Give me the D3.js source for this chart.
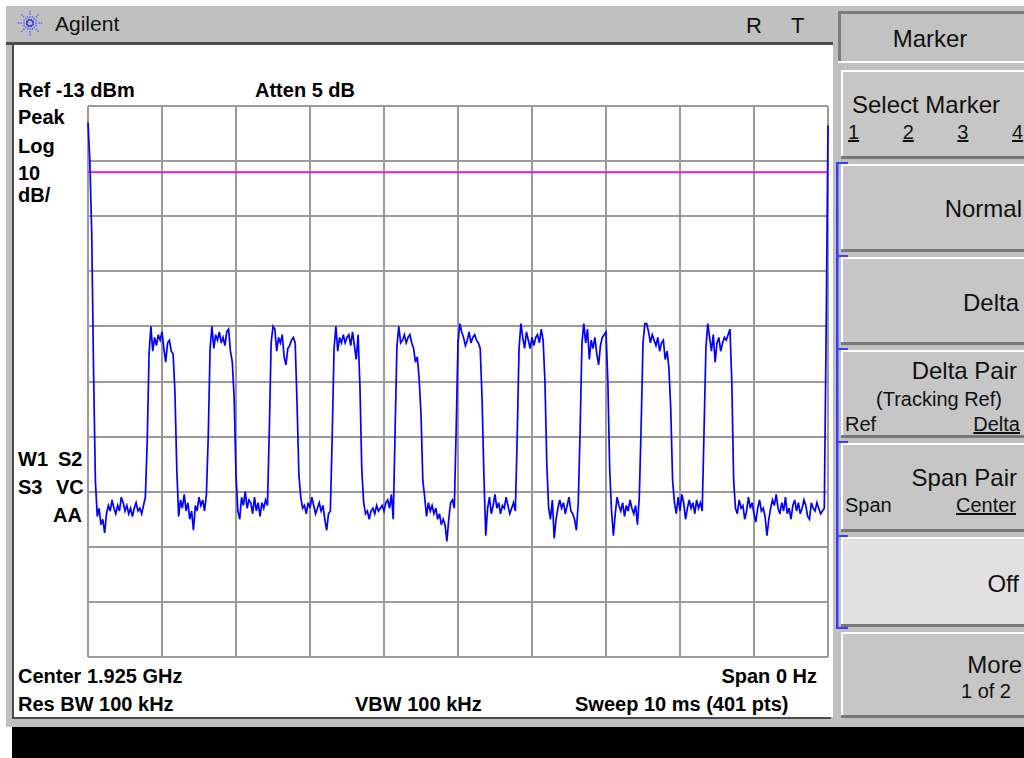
<!DOCTYPE html>
<html>
<head>
<meta charset="utf-8">
<title>Agilent ESA – Zero span burst trace</title>
<script src="https://cdn.jsdelivr.net/npm/d3@7"></script>
<style>
  html, body { margin: 0; padding: 0; background: #ffffff; }
  svg { display: block; }
  text { font-family: "Liberation Sans", Arial, sans-serif; }
  .ann { font-weight: bold; font-size: 20px; fill: #000; }
  .key { font-size: 24px; fill: #111; }
  .keysm { font-size: 20px; fill: #111; }
</style>
</head>
<body>
<svg id="scr" width="1024" height="758"></svg>
<script>
// ---- instrument settings ----
const refLevelDbm = -13;
const dbPerDiv = 10;
const gridDivs = 10;
const attenDb = 5;
const centerGHz = 1.925;
const spanHz = 0;
const resBwKHz = 100;
const vbwKHz = 100;
const sweepMs = 10;
const displayLineDbm = -25;

// ---- swept trace, 401 points (dBm) ----
const traceDbm = [
  -16, -23, -36, -61, -81,
  -87.5, -86, -89, -88, -90.5, -87, -85.5, -86.5, -84.5, -86, -87, -85.5, -86.5, -84,
  -85, -86.5, -85.5, -87, -86, -87.5, -86, -85, -86.5, -86, -87, -85.5, -84,
  -74, -58,
  -53, -57.5, -55, -56.5, -54.5, -55.5, -54, -57, -59.5, -56, -55.5, -57.5, -58,
  -65, -79,
  -87.5, -84.5, -86, -83.5, -86.5, -85, -88, -86.5, -90, -85.5, -86.5, -84, -85.5, -84.5, -86.5, -83.5,
  -73, -57,
  -53, -57, -54.5, -55.5, -54, -56, -55, -56.5, -54, -53.5, -57.5, -59.5,
  -66, -80,
  -86.5, -88, -84, -85.5, -83, -86, -84.5, -85, -87, -84, -86.5, -85, -87.5, -85, -86, -84.5, -85.5,
  -72, -56,
  -53, -53.5, -57.5, -55, -56, -54.5, -58.5, -60, -57, -56.5, -55.5, -55, -56,
  -67, -80,
  -84, -86, -85.5, -87, -85, -86, -84, -85.5, -87, -86, -85, -86.5, -85.5, -88, -90, -87, -86.5,
  -73, -57,
  -53, -57.5, -55, -56, -54.5, -56, -55, -54.5, -56.5, -54, -56.5, -59, -54.5,
  -64, -79,
  -85, -87, -86.5, -88, -86.5, -86, -87, -85.5, -86.5, -86, -85.5, -86.5, -85, -84.5, -86, -83.5, -88,
  -72, -56.5,
  -53, -56, -55.5, -54.5, -56, -55, -54.5, -56, -57, -59.5, -58.5, -62.5,
  -69, -81,
  -84, -87.5, -85, -86.5, -85.5, -87, -86, -88, -87, -89, -88, -89, -92, -88, -85, -84.5, -86,
  -72, -56,
  -52.5, -54, -55, -56.5, -55.5, -54, -56, -55, -54.5, -55.5, -56, -57,
  -66, -80,
  -91, -86, -84, -87, -85.5, -83.5, -86, -85, -87, -85.5, -86, -84, -85.5, -87, -86, -85, -86.5,
  -73, -57,
  -52.5, -55, -57, -54, -55.5, -57, -55, -56.5, -55, -54.5, -56, -53.5, -55.5,
  -63, -78,
  -86, -88, -84.5, -91.5, -88, -86, -84.5, -86, -85, -87, -85.5, -84, -86.5, -87, -88, -90, -85,
  -72, -56,
  -52.5, -56, -53.5, -59, -55.5, -57, -55, -58, -60, -56.5, -55, -54.5, -54,
  -63, -79,
  -86.5, -91, -87, -84, -85.5, -86.5, -85, -87.5, -85.5, -86.5, -84.5, -86, -87, -85.5, -89, -84,
  -71, -56,
  -52.5, -52.5, -54, -56, -54.5, -55.5, -56.5, -55, -57.5, -56, -55.5, -59, -57.5, -60.5,
  -68, -81,
  -85, -87, -84, -86.5, -83.5, -85, -88, -86, -84.5, -86, -85, -87, -84.5, -86, -85, -86.5,
  -72, -57,
  -52.5, -55, -57.5, -54.5, -59.5, -56, -55, -57.5, -56, -55, -55.5, -54.5, -53.5,
  -63, -81,
  -86, -87, -84.5, -86, -85.5, -88, -86.5, -84, -86, -85, -87, -88.5, -86, -84.5, -86.5, -86,
  -87.5, -91, -88, -86, -84.5, -85.5, -83.5, -86, -87, -85, -86.5, -84, -87, -86, -88, -85.5,
  -84.5, -86.5, -85, -87, -86, -84.5, -85.5, -87.5, -88, -85, -86, -86.5, -85, -86, -87, -86.5,
  -86, -54, -16.5
];

// ---- softkey menu ----
const menuTitle = "Marker";
const markerNumbers = ["1", "2", "3", "4"];
const softkeys = [
  { top: 70,  bottom: 159, lines: [{ t: "Select Marker", x: 852, y: 113, cls: "key", anchor: "start" }], digits: markerNumbers },
  { top: 164, bottom: 252, lines: [{ t: "Normal", x: 1022, y: 217, cls: "key", anchor: "end" }] },
  { top: 257, bottom: 345, lines: [{ t: "Delta", x: 1019, y: 311, cls: "key", anchor: "end" }] },
  { top: 350, bottom: 438, lines: [
      { t: "Delta Pair", x: 1017, y: 379, cls: "key", anchor: "end" },
      { t: "(Tracking Ref)", x: 939, y: 406, cls: "keysm", anchor: "middle" },
      { t: "Ref", x: 845, y: 431, cls: "keysm", anchor: "start" },
      { t: "Delta", x: 1020, y: 431, cls: "keysm", anchor: "end", u: true }] },
  { top: 443, bottom: 532, lines: [
      { t: "Span Pair", x: 1017, y: 486, cls: "key", anchor: "end" },
      { t: "Span", x: 845, y: 512, cls: "keysm", anchor: "start" },
      { t: "Center", x: 1016, y: 512, cls: "keysm", anchor: "end", u: true }] },
  { top: 537, bottom: 627, lines: [{ t: "Off", x: 1019, y: 592, cls: "key", anchor: "end" }], lit: true },
  { top: 632, bottom: 718, lines: [
      { t: "More", x: 1022, y: 673, cls: "key", anchor: "end" },
      { t: "1 of 2", x: 1011, y: 698, cls: "keysm", anchor: "end" }] }
];
const radioGroup = [1, 5]; // Normal … Off share the blue bracket

const svg = d3.select("#scr");

// ---- frame ----
svg.append("rect").attr("width", 1024).attr("height", 758).attr("fill", "#ffffff");
svg.append("rect").attr("x", 6).attr("y", 6).attr("width", 1018).attr("height", 721).attr("fill", "#c0c0c0");
svg.append("rect").attr("x", 14).attr("y", 45).attr("width", 819).attr("height", 672).attr("fill", "#ffffff");
svg.append("rect").attr("x", 6).attr("y", 42).attr("width", 827).attr("height", 3).attr("fill", "#4a4a4a");
svg.append("rect").attr("x", 12).attr("y", 42).attr("width", 2).attr("height", 677).attr("fill", "#4a4a4a");
svg.append("rect").attr("x", 12).attr("y", 717).attr("width", 819).attr("height", 2).attr("fill", "#4a4a4a");
svg.append("rect").attr("x", 12).attr("y", 727).attr("width", 1012).attr("height", 31).attr("fill", "#000000");

// title bar with starburst logo
const logo = svg.append("g").attr("transform", "translate(30,23)");
d3.range(16).forEach(k => {
  const a = k * Math.PI / 8;
  const long = k % 2 === 0;
  (long ? [3, 6, 9, 11.5] : [3.5, 6.5]).forEach((r, j) => {
    logo.append("circle").attr("cx", r * Math.cos(a)).attr("cy", r * Math.sin(a))
      .attr("r", 0.9).attr("fill", j === 0 ? "#3030e0" : "#6c6cf0");
  });
});
svg.append("text").attr("x", 55).attr("y", 31).attr("font-size", 21).attr("fill", "#111").text("Agilent");
svg.append("text").attr("x", 746).attr("y", 33).attr("font-size", 22).attr("fill", "#111").text("R");
svg.append("text").attr("x", 791).attr("y", 33).attr("font-size", 22).attr("fill", "#111").text("T");

// ---- graticule ----
const x = d3.scaleLinear().domain([0, sweepMs]).range([88, 828]);
const y = d3.scaleLinear().domain([refLevelDbm - gridDivs * dbPerDiv, refLevelDbm]).range([657, 106]);
const timeTicks = d3.range(gridDivs + 1).map(k => k * sweepMs / gridDivs);
const levelTicks = d3.range(gridDivs + 1).map(k => refLevelDbm - k * dbPerDiv);

const grid = svg.append("g").attr("stroke", "#9a9a9a").attr("stroke-width", 2);
grid.selectAll("line.v").data(timeTicks).join("line").attr("class", "v")
  .attr("x1", d => Math.round(x(d))).attr("x2", d => Math.round(x(d)))
  .attr("y1", y.range()[1]).attr("y2", y.range()[0]);
grid.selectAll("line.h").data(levelTicks).join("line").attr("class", "h")
  .attr("y1", d => Math.round(y(d))).attr("y2", d => Math.round(y(d)))
  .attr("x1", x.range()[0]).attr("x2", x.range()[1]);

// display line
svg.append("line").attr("x1", x(0)).attr("x2", x(sweepMs))
  .attr("y1", y(displayLineDbm)).attr("y2", y(displayLineDbm))
  .attr("stroke", "#ff00ff").attr("stroke-width", 1.6);

// trace
const nPts = traceDbm.length;
const line = d3.line()
  .x((d, i) => x(i * sweepMs / (nPts - 1)))
  .y(d => y(d));
svg.append("path").datum(traceDbm).attr("d", line)
  .attr("fill", "none").attr("stroke", "#0000ff").attr("stroke-width", 1.7)
  .attr("stroke-linejoin", "miter");

// ---- annotations ----
const ann = [
  { t: `Ref ${refLevelDbm} dBm`, x: 18, y: 97 },
  { t: `Atten ${attenDb} dB`, x: 255, y: 97 },
  { t: "Peak", x: 18, y: 124 },
  { t: "Log", x: 18, y: 153 },
  { t: `${dbPerDiv}`, x: 18, y: 180 },
  { t: "dB/", x: 18, y: 202 },
  { t: "W1", x: 18, y: 466 },
  { t: "S2", x: 58, y: 466 },
  { t: "S3", x: 18, y: 494 },
  { t: "VC", x: 56, y: 494 },
  { t: "AA", x: 82, y: 522, anchor: "end" },
  { t: `Center ${centerGHz} GHz`, x: 18, y: 683 },
  { t: `Span ${spanHz} Hz`, x: 817, y: 683, anchor: "end" },
  { t: `Res BW ${resBwKHz} kHz`, x: 18, y: 711 },
  { t: `VBW ${vbwKHz} kHz`, x: 355, y: 711 },
  { t: `Sweep ${sweepMs} ms (${nPts} pts)`, x: 575, y: 711 }
];
svg.append("g").selectAll("text").data(ann).join("text")
  .attr("class", "ann").attr("x", d => d.x).attr("y", d => d.y)
  .attr("text-anchor", d => d.anchor || "start").text(d => d.t);

// ---- softkey panel ----
const kx = 841, kw = 1030 - kx;
// menu title (inset)
svg.append("rect").attr("x", 838).attr("y", 11).attr("width", 186).attr("height", 51).attr("fill", "#c2c2c2");
svg.append("rect").attr("x", 838).attr("y", 11).attr("width", 186).attr("height", 3).attr("fill", "#7c7c7c");
svg.append("rect").attr("x", 838).attr("y", 11).attr("width", 3).attr("height", 51).attr("fill", "#7c7c7c");
svg.append("rect").attr("x", 838).attr("y", 61).attr("width", 186).attr("height", 2).attr("fill", "#ffffff");
svg.append("text").attr("class", "key").attr("x", 930).attr("y", 47).attr("text-anchor", "middle").text(menuTitle);

const keys = svg.append("g").selectAll("g").data(softkeys).join("g");
keys.append("rect").attr("x", kx).attr("y", d => d.top).attr("width", kw).attr("height", d => d.bottom - d.top)
  .attr("fill", d => d.lit ? "#e1e1e1" : "#c6c6c6");
keys.append("rect").attr("x", kx).attr("y", d => d.top).attr("width", kw).attr("height", 2).attr("fill", "#ffffff");
keys.append("rect").attr("x", kx).attr("y", d => d.top).attr("width", 2).attr("height", d => d.bottom - d.top).attr("fill", "#ffffff");
keys.append("rect").attr("x", kx).attr("y", d => d.bottom - 3).attr("width", kw).attr("height", 3).attr("fill", "#777777");
keys.each(function (d) {
  const g = d3.select(this);
  g.selectAll("text.l").data(d.lines).join("text").attr("class", l => "l " + l.cls)
    .attr("x", l => l.x).attr("y", l => l.y).attr("text-anchor", l => l.anchor)
    .attr("text-decoration", l => l.u ? "underline" : null).text(l => l.t);
  if (d.digits) {
    const dx = d3.scalePoint().domain(d.digits).range([848, 1012]);
    g.selectAll("text.dg").data(d.digits).join("text").attr("class", "dg keysm")
      .attr("x", v => dx(v)).attr("y", 139).attr("text-decoration", "underline").text(v => v);
  }
});

// radio-group bracket
const gTop = softkeys[radioGroup[0]].top - 2, gBot = softkeys[radioGroup[1]].bottom + 1;
const br = svg.append("g").attr("fill", "#3c3cff");
br.append("rect").attr("x", 836).attr("y", gTop).attr("width", 2.5).attr("height", gBot - gTop);
const tickYs = softkeys.slice(radioGroup[0], radioGroup[1] + 1).map(d => d.top - 2)
  .concat([softkeys[radioGroup[1]].bottom]);
br.selectAll("rect.t").data(tickYs).join("rect").attr("class", "t")
  .attr("x", 836).attr("y", d => d).attr("width", 12).attr("height", 2);
</script>
</body>
</html>
